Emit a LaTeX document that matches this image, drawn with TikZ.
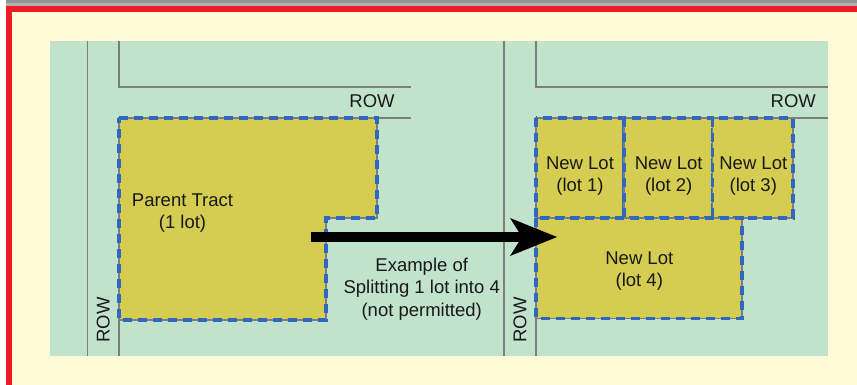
\documentclass[tikz,border=0pt]{standalone}
\usepackage{fontspec}
\setmainfont{Liberation Sans}
\usetikzlibrary{arrows.meta}
\definecolor{cream}{RGB}{255,251,214}
\definecolor{framered}{RGB}{236,30,36}
\definecolor{roadgreen}{RGB}{193,226,203}
\definecolor{lotyellow}{RGB}{213,204,82}
\definecolor{lotblue}{RGB}{48,104,192}
\definecolor{rowgray}{RGB}{125,125,125}
\definecolor{inkgray}{RGB}{25,25,25}

\begin{document}
\begin{tikzpicture}[x=1pt,y=-1pt,>={Stealth[length=47pt,width=38pt,inset=12pt,line width=0pt]},%
	rowline/.style={draw=rowgray,line width=1.2pt},%
	lot/.style={fill=lotyellow,draw=rowgray,line width=1.3pt},%
	lotedge/.style={draw=lotblue,line width=3.4pt,dash pattern=on 9pt off 6pt},%
	lbl/.style={text=inkgray,font=\fontsize{18.5}{22.5}\selectfont,align=center,inner sep=0pt}]
	% frame and ground
	\useasboundingbox (0,0) rectangle (857,385);
	\fill[white] (0,0) rectangle (857,385);
	\fill[gray!85] (6,0) rectangle (857,3);
	\fill[gray!60] (6,3) rectangle (857,6);
	\fill[framered] (6,6) rectangle (857,385);
	\fill[cream] (11.5,12) rectangle (857,385);
	\fill[roadgreen] (50,41) rectangle (828,356);
	
	% right of way lines
	\foreach \xa/\xb/\xe in {87.7/119/411,504/536/828}{
		\draw[rowline] (\xa,41) -- (\xa,356);
		\draw[rowline] (\xb,41) -- (\xb,87) -- (\xe,87);
		\draw[rowline] (\xb,356) -- (\xb,118) -- (\xe,118);
	}
	
	% parent tract
	\path[lot] (119,118) -- (377,118) -- (377,218) -- (326,218) -- (326,320) -- (119,320) -- cycle;
	\draw[lotedge] (119,118) -- (377,118) -- (377,218) -- (326,218) -- (326,320) -- (119,320) -- cycle;
	
	% new lots
	\foreach \xa/\xb in {536/624,624/712.7,712.7/793}{
		\path[lot] (\xa,118) rectangle (\xb,218);
		\draw[lotedge] (\xa,118) rectangle (\xb,218);
	}
	\path[lot] (536,218) rectangle (742,318.3);
	\draw[lotedge] (536,218) rectangle (742,318.3);
	
	% labels
	\node[lbl] (parent) at (182.5,213) {Parent Tract\\(1 lot)};
	\node[lbl] (lot1) at (580,176) {New Lot\\(lot 1)};
	\node[lbl] (lot2) at (668.7,176) {New Lot\\(lot 2)};
	\node[lbl] (lot3) at (753.3,176) {New Lot\\(lot 3)};
	\node[lbl] (lot4) at (639.3,271) {New Lot\\(lot 4)};
	\node[lbl] (split) at (421.7,289) {Example of\\Splitting 1 lot into 4\\(not permitted)};
	\node[lbl] (rowa) at (372,101.5) {ROW};
	\node[lbl] (rowb) at (793.3,101.5) {ROW};
	\node[lbl,rotate=90] (rowc) at (103.3,320) {ROW};
	\node[lbl,rotate=90] (rowd) at (520,320) {ROW};
	
	% split arrow
	\coordinate (from) at (311,237);
	\coordinate (to) at (557,237);
	\draw[->,line width=10.5pt] (from) -- (to);
\end{tikzpicture}
\end{document}
